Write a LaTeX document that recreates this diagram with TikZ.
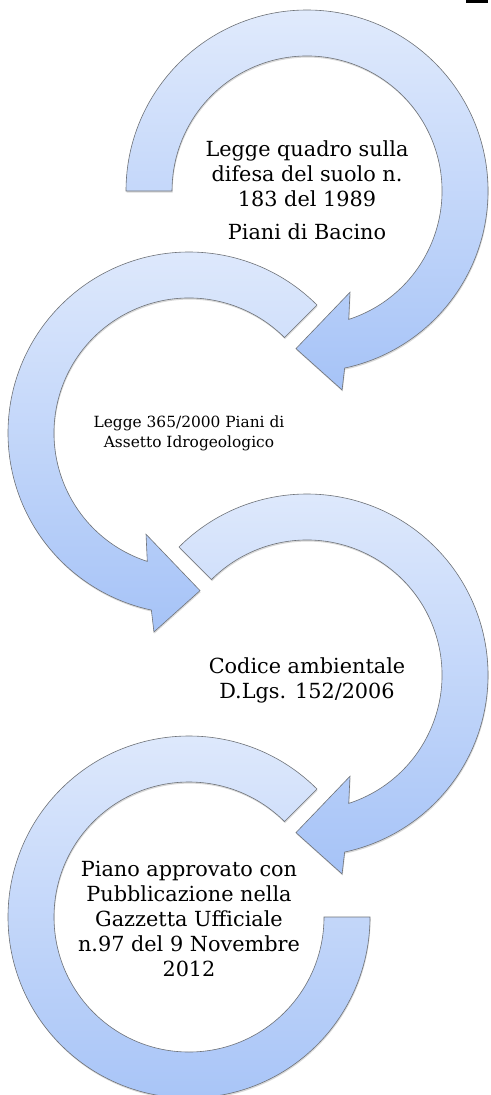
\documentclass[tikz,border=0pt]{standalone}
\usepackage{fontspec}
\setmainfont{DejaVu Serif}
\usetikzlibrary{shadows}
\definecolor{arrowtop}{HTML}{E0EAFC}
\definecolor{arrowbot}{HTML}{A6C3F7}
\definecolor{edgegray}{HTML}{6E7278}
\tikzset{
  bandarrow/.style={draw=edgegray, line width=0.6pt, line join=miter,
    top color=arrowtop, bottom color=arrowbot,
    drop shadow={opacity=0.3, shadow xshift=0.6pt, shadow yshift=-1.6pt}},
  bigtext/.style={align=center, font=\fontsize{20.8}{25}\selectfont, inner sep=0pt},
  smalltext/.style={align=center, font=\fontsize{15.4}{20}\selectfont, inner sep=0pt}
}
\begin{document}
\begin{tikzpicture}[x=1pt,y=1pt]
\useasboundingbox (0,0) rectangle (490,-1095);
\fill[white] (0,0) rectangle (490,-1095);

% arrow 1 (clockwise), centre (307,-191)
\begin{scope}[shift={(307,-191)}]
\path[bandarrow] (180:181) arc[start angle=180, end angle=-78, radius=181]
  -- (-80:202) -- (-94:158) -- (-67:110) -- (-72:135)
  arc[start angle=-72, end angle=180, radius=135] -- cycle;
\end{scope}

% arrow 2 (counter-clockwise), centre (189,-433)
\begin{scope}[shift={(189,-433)}]
\path[bandarrow] (45:181) arc[start angle=45, end angle=258, radius=181]
  -- (260:202) -- (274:158) -- (247:110) -- (252:135)
  arc[start angle=252, end angle=45, radius=135] -- cycle;
\end{scope}

% arrow 3 (clockwise), centre (307,-675)
\begin{scope}[shift={(307,-675)}]
\path[bandarrow] (135:181) arc[start angle=135, end angle=-78, radius=181]
  -- (-80:202) -- (-94:158) -- (-67:110) -- (-72:135)
  arc[start angle=-72, end angle=135, radius=135] -- cycle;
\end{scope}

% arc 4 (no head), centre (189,-917)
\begin{scope}[shift={(189,-917)}]
\path[bandarrow] (45:181) arc[start angle=45, end angle=360, radius=181]
  -- (0:135) arc[start angle=360, end angle=45, radius=135] -- cycle;
\end{scope}

\node[bigtext] (t1) at (307,-190) {Legge quadro sulla\\difesa del suolo n.\\183 del 1989\\[8pt]Piani di Bacino};
\node[smalltext] (t2) at (189,-433) {Legge 365/2000 Piani di\\Assetto Idrogeologico};
\node[bigtext] (t3) at (307,-680) {Codice ambientale\\D.Lgs. 152/2006};
\node[bigtext] (t4) at (189,-919) {Piano approvato con\\Pubblicazione nella\\Gazzetta Ufficiale\\n.97 del 9 Novembre\\2012};

\fill[black] (466,0) rectangle (488,-3);
\end{tikzpicture}
\end{document}
